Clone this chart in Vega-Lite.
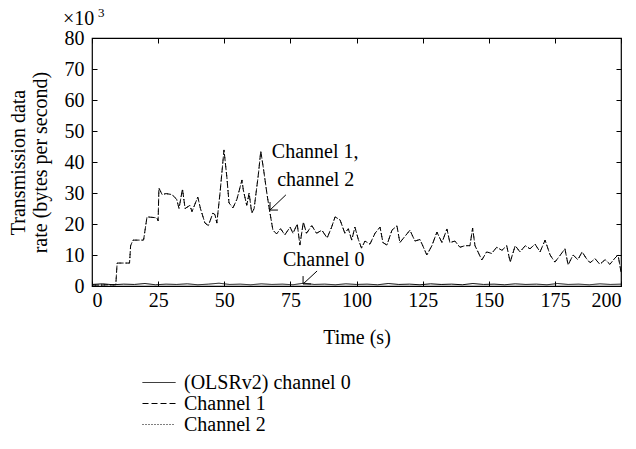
{
  "$schema": "https://vega.github.io/schema/vega-lite/v6.json",
  "width": 529,
  "height": 248,
  "autosize": {"type": "none"},
  "padding": {"left": 92, "top": 38, "right": 15, "bottom": 163},
  "background": "white",
  "config": {
    "font": "Liberation Serif",
    "view": {"stroke": "black", "strokeWidth": 1.2},
    "axis": {
      "domain": false,
      "grid": false,
      "tickColor": "black",
      "tickWidth": 1,
      "tickSize": -5,
      "labelColor": "black",
      "labelFont": "Liberation Serif",
      "labelFontSize": 20,
      "titleFont": "Liberation Serif",
      "titleFontSize": 20,
      "titleFontWeight": "normal",
      "titleColor": "black"
    },
    "legend": {
      "orient": "none",
      "legendX": 56.5,
      "legendY": 334,
      "symbolType": "M-1.65,0H1.65",
      "symbolSize": 400,
      "symbolStrokeColor": "black",
      "symbolStrokeWidth": 1,
      "symbolFillColor": "transparent",
      "labelFont": "Liberation Serif",
      "labelFontSize": 20,
      "labelColor": "black",
      "labelOffset": 14.5,
      "labelLimit": 400,
      "rowPadding": 0
    }
  },
  "datasets": {
    "ch12": [
      {"time": 0, "Channel 1": 0.3, "Channel 2": 0.3},
      {"time": 3, "Channel 1": 0.3, "Channel 2": 0.3},
      {"time": 6, "Channel 1": 0.4, "Channel 2": 0.4},
      {"time": 9, "Channel 1": 0.4, "Channel 2": 0.4},
      {"time": 9.5, "Channel 1": 7.4, "Channel 2": 7.4},
      {"time": 14.2, "Channel 1": 7.4, "Channel 2": 7.4},
      {"time": 14.6, "Channel 1": 13, "Channel 2": 13},
      {"time": 15.5, "Channel 1": 14.8, "Channel 2": 14.8},
      {"time": 19.5, "Channel 1": 14.8, "Channel 2": 14.8},
      {"time": 20.8, "Channel 1": 22.3, "Channel 2": 22.3},
      {"time": 24.5, "Channel 1": 22, "Channel 2": 22},
      {"time": 25, "Channel 1": 21, "Channel 2": 21},
      {"time": 25.3, "Channel 1": 31.6, "Channel 2": 31.6},
      {"time": 26.5, "Channel 1": 29.5, "Channel 2": 29.5},
      {"time": 28, "Channel 1": 29.8, "Channel 2": 29.8},
      {"time": 30.2, "Channel 1": 29.5, "Channel 2": 29.5},
      {"time": 32, "Channel 1": 28, "Channel 2": 28},
      {"time": 32.9, "Channel 1": 25, "Channel 2": 25},
      {"time": 34.2, "Channel 1": 31.3, "Channel 2": 31.3},
      {"time": 35.2, "Channel 1": 25, "Channel 2": 25},
      {"time": 37, "Channel 1": 26, "Channel 2": 26},
      {"time": 37.8, "Channel 1": 24, "Channel 2": 24},
      {"time": 40, "Channel 1": 28.7, "Channel 2": 28.7},
      {"time": 41, "Channel 1": 25, "Channel 2": 25},
      {"time": 42.7, "Channel 1": 20.3, "Channel 2": 20.3},
      {"time": 44, "Channel 1": 19.5, "Channel 2": 19.5},
      {"time": 45.7, "Channel 1": 23.5, "Channel 2": 23.5},
      {"time": 46.5, "Channel 1": 23, "Channel 2": 23},
      {"time": 47.2, "Channel 1": 20.3, "Channel 2": 20.3},
      {"time": 48.4, "Channel 1": 30, "Channel 2": 30},
      {"time": 49.9, "Channel 1": 43.9, "Channel 2": 43.9},
      {"time": 51, "Channel 1": 35, "Channel 2": 35},
      {"time": 51.8, "Channel 1": 26.8, "Channel 2": 26.8},
      {"time": 53.3, "Channel 1": 25.2, "Channel 2": 25.2},
      {"time": 54.8, "Channel 1": 28, "Channel 2": 28},
      {"time": 56.7, "Channel 1": 34.2, "Channel 2": 34.2},
      {"time": 57.2, "Channel 1": 31, "Channel 2": 31},
      {"time": 58.5, "Channel 1": 26, "Channel 2": 26},
      {"time": 59.4, "Channel 1": 30, "Channel 2": 30},
      {"time": 60.4, "Channel 1": 23.5, "Channel 2": 23.5},
      {"time": 61.3, "Channel 1": 25, "Channel 2": 25},
      {"time": 62.9, "Channel 1": 36, "Channel 2": 36},
      {"time": 63.8, "Channel 1": 43.5, "Channel 2": 43.5},
      {"time": 64.8, "Channel 1": 38, "Channel 2": 38},
      {"time": 66.1, "Channel 1": 30, "Channel 2": 30},
      {"time": 67, "Channel 1": 25, "Channel 2": 25},
      {"time": 68.4, "Channel 1": 18, "Channel 2": 18},
      {"time": 69.8, "Channel 1": 16.8, "Channel 2": 16.8},
      {"time": 71.3, "Channel 1": 18.5, "Channel 2": 18.5},
      {"time": 72.9, "Channel 1": 16.5, "Channel 2": 16.5},
      {"time": 74.9, "Channel 1": 19, "Channel 2": 19},
      {"time": 76, "Channel 1": 17, "Channel 2": 17},
      {"time": 77.6, "Channel 1": 20, "Channel 2": 20},
      {"time": 78.6, "Channel 1": 13.2, "Channel 2": 13.2},
      {"time": 79.9, "Channel 1": 20.6, "Channel 2": 20.6},
      {"time": 81.1, "Channel 1": 17, "Channel 2": 17},
      {"time": 83.1, "Channel 1": 19.5, "Channel 2": 19.5},
      {"time": 84.9, "Channel 1": 17, "Channel 2": 17},
      {"time": 86.9, "Channel 1": 18, "Channel 2": 18},
      {"time": 88.9, "Channel 1": 15.5, "Channel 2": 15.5},
      {"time": 90.6, "Channel 1": 19, "Channel 2": 19},
      {"time": 91.9, "Channel 1": 22.3, "Channel 2": 22.3},
      {"time": 93.8, "Channel 1": 21.3, "Channel 2": 21.3},
      {"time": 95.6, "Channel 1": 17, "Channel 2": 17},
      {"time": 96.9, "Channel 1": 18.5, "Channel 2": 18.5},
      {"time": 98.2, "Channel 1": 14.8, "Channel 2": 14.8},
      {"time": 99.4, "Channel 1": 19, "Channel 2": 19},
      {"time": 100.7, "Channel 1": 15, "Channel 2": 15},
      {"time": 101.9, "Channel 1": 12.2, "Channel 2": 12.2},
      {"time": 103.2, "Channel 1": 14.5, "Channel 2": 14.5},
      {"time": 105.1, "Channel 1": 13.5, "Channel 2": 13.5},
      {"time": 107, "Channel 1": 17, "Channel 2": 17},
      {"time": 108.9, "Channel 1": 19, "Channel 2": 19},
      {"time": 110, "Channel 1": 14, "Channel 2": 14},
      {"time": 111.5, "Channel 1": 13.2, "Channel 2": 13.2},
      {"time": 113.4, "Channel 1": 18, "Channel 2": 18},
      {"time": 115.3, "Channel 1": 19.4, "Channel 2": 19.4},
      {"time": 116.4, "Channel 1": 14, "Channel 2": 14},
      {"time": 118.3, "Channel 1": 16, "Channel 2": 16},
      {"time": 120.2, "Channel 1": 18, "Channel 2": 18},
      {"time": 122.1, "Channel 1": 14.5, "Channel 2": 14.5},
      {"time": 124, "Channel 1": 15, "Channel 2": 15},
      {"time": 126.6, "Channel 1": 10, "Channel 2": 10},
      {"time": 128.5, "Channel 1": 13, "Channel 2": 13},
      {"time": 130.4, "Channel 1": 17.4, "Channel 2": 17.4},
      {"time": 132.3, "Channel 1": 14, "Channel 2": 14},
      {"time": 134.2, "Channel 1": 18.4, "Channel 2": 18.4},
      {"time": 135.3, "Channel 1": 14, "Channel 2": 14},
      {"time": 137.2, "Channel 1": 14.5, "Channel 2": 14.5},
      {"time": 139.1, "Channel 1": 12.5, "Channel 2": 12.5},
      {"time": 141, "Channel 1": 13, "Channel 2": 13},
      {"time": 142.9, "Channel 1": 13, "Channel 2": 13},
      {"time": 143.9, "Channel 1": 18.7, "Channel 2": 18.7},
      {"time": 144.8, "Channel 1": 13, "Channel 2": 13},
      {"time": 147.4, "Channel 1": 8.4, "Channel 2": 8.4},
      {"time": 149.2, "Channel 1": 11, "Channel 2": 11},
      {"time": 151.1, "Channel 1": 10.5, "Channel 2": 10.5},
      {"time": 153, "Channel 1": 12.5, "Channel 2": 12.5},
      {"time": 155, "Channel 1": 11.5, "Channel 2": 11.5},
      {"time": 156.8, "Channel 1": 13, "Channel 2": 13},
      {"time": 158.1, "Channel 1": 7.7, "Channel 2": 7.7},
      {"time": 160, "Channel 1": 13, "Channel 2": 13},
      {"time": 161.8, "Channel 1": 11, "Channel 2": 11},
      {"time": 163.8, "Channel 1": 13, "Channel 2": 13},
      {"time": 165.6, "Channel 1": 12, "Channel 2": 12},
      {"time": 167.5, "Channel 1": 13.5, "Channel 2": 13.5},
      {"time": 169.4, "Channel 1": 11, "Channel 2": 11},
      {"time": 171.3, "Channel 1": 14.8, "Channel 2": 14.8},
      {"time": 173.2, "Channel 1": 10, "Channel 2": 10},
      {"time": 175, "Channel 1": 7.7, "Channel 2": 7.7},
      {"time": 176.9, "Channel 1": 9.8, "Channel 2": 9.8},
      {"time": 178.8, "Channel 1": 12, "Channel 2": 12},
      {"time": 180, "Channel 1": 6.8, "Channel 2": 6.8},
      {"time": 181.9, "Channel 1": 10, "Channel 2": 10},
      {"time": 183.7, "Channel 1": 8.5, "Channel 2": 8.5},
      {"time": 185.3, "Channel 1": 11, "Channel 2": 11},
      {"time": 186.8, "Channel 1": 9, "Channel 2": 9},
      {"time": 188.3, "Channel 1": 7.5, "Channel 2": 7.5},
      {"time": 190.2, "Channel 1": 8.8, "Channel 2": 8.8},
      {"time": 192, "Channel 1": 7, "Channel 2": 7},
      {"time": 194, "Channel 1": 8.5, "Channel 2": 8.5},
      {"time": 195.8, "Channel 1": 7, "Channel 2": 7},
      {"time": 197.7, "Channel 1": 9, "Channel 2": 9},
      {"time": 198.9, "Channel 1": 10, "Channel 2": 10},
      {"time": 200, "Channel 1": 4.5, "Channel 2": 4.5}
    ],
    "ch0": [
      {"time": 0, "(OLSRv2) channel 0": 0.5}, {"time": 4, "(OLSRv2) channel 0": 0.7},
      {"time": 8, "(OLSRv2) channel 0": 0.4}, {"time": 12, "(OLSRv2) channel 0": 0.6},
      {"time": 16, "(OLSRv2) channel 0": 0.5}, {"time": 20, "(OLSRv2) channel 0": 0.8},
      {"time": 24, "(OLSRv2) channel 0": 0.4}, {"time": 28, "(OLSRv2) channel 0": 0.6},
      {"time": 32, "(OLSRv2) channel 0": 0.5}, {"time": 36, "(OLSRv2) channel 0": 0.7},
      {"time": 40, "(OLSRv2) channel 0": 0.4}, {"time": 44, "(OLSRv2) channel 0": 0.6},
      {"time": 48, "(OLSRv2) channel 0": 0.9}, {"time": 52, "(OLSRv2) channel 0": 0.5},
      {"time": 56, "(OLSRv2) channel 0": 0.6}, {"time": 60, "(OLSRv2) channel 0": 0.4},
      {"time": 64, "(OLSRv2) channel 0": 0.7}, {"time": 68, "(OLSRv2) channel 0": 0.5},
      {"time": 72, "(OLSRv2) channel 0": 0.6}, {"time": 76, "(OLSRv2) channel 0": 0.4},
      {"time": 80, "(OLSRv2) channel 0": 0.9}, {"time": 84, "(OLSRv2) channel 0": 0.5},
      {"time": 88, "(OLSRv2) channel 0": 0.6}, {"time": 92, "(OLSRv2) channel 0": 0.4},
      {"time": 96, "(OLSRv2) channel 0": 0.7}, {"time": 100, "(OLSRv2) channel 0": 0.5},
      {"time": 104, "(OLSRv2) channel 0": 0.6}, {"time": 108, "(OLSRv2) channel 0": 0.4},
      {"time": 112, "(OLSRv2) channel 0": 0.8}, {"time": 116, "(OLSRv2) channel 0": 0.5},
      {"time": 120, "(OLSRv2) channel 0": 0.6}, {"time": 124, "(OLSRv2) channel 0": 0.4},
      {"time": 128, "(OLSRv2) channel 0": 0.7}, {"time": 132, "(OLSRv2) channel 0": 0.5},
      {"time": 136, "(OLSRv2) channel 0": 0.6}, {"time": 140, "(OLSRv2) channel 0": 0.4},
      {"time": 144, "(OLSRv2) channel 0": 0.8}, {"time": 148, "(OLSRv2) channel 0": 0.5},
      {"time": 152, "(OLSRv2) channel 0": 0.6}, {"time": 156, "(OLSRv2) channel 0": 0.4},
      {"time": 160, "(OLSRv2) channel 0": 0.7}, {"time": 164, "(OLSRv2) channel 0": 0.5},
      {"time": 168, "(OLSRv2) channel 0": 0.6}, {"time": 172, "(OLSRv2) channel 0": 0.4},
      {"time": 176, "(OLSRv2) channel 0": 0.8}, {"time": 180, "(OLSRv2) channel 0": 0.5},
      {"time": 184, "(OLSRv2) channel 0": 0.6}, {"time": 188, "(OLSRv2) channel 0": 0.4},
      {"time": 192, "(OLSRv2) channel 0": 0.7}, {"time": 196, "(OLSRv2) channel 0": 0.5},
      {"time": 200, "(OLSRv2) channel 0": 0.6}
    ]
  },
  "resolve": {"axis": {"x": "independent", "y": "independent"}},
  "layer": [
    {
      "data": {"name": "ch0"},
      "transform": [{"fold": ["(OLSRv2) channel 0"], "as": ["series", "rate"]}],
      "mark": {"type": "line", "color": "black", "strokeWidth": 1},
      "encoding": {
        "x": {"field": "time", "type": "quantitative", "scale": {"domain": [0, 200], "nice": false},
              "axis": {"orient": "bottom", "values": [0, 25, 50, 75, 100, 125, 150, 175, 200], "labelPadding": 9, "title": "Time (s)", "titlePadding": 17}},
        "y": {"field": "rate", "type": "quantitative", "scale": {"domain": [0, 80], "nice": false},
              "axis": {"orient": "left", "values": [0, 10, 20, 30, 40, 50, 60, 70, 80], "labelPadding": 13, "title": ["Transmission data", "rate (bytes per second)"], "titlePadding": 14}},
        "strokeDash": {"field": "series", "type": "nominal",
          "scale": {"domain": ["(OLSRv2) channel 0", "Channel 1", "Channel 2"], "range": [[1, 0], [6, 3], [1, 2]]},
          "legend": {"title": null}}
      }
    },
    {
      "data": {"name": "ch12"},
      "transform": [{"fold": ["Channel 1", "Channel 2"], "as": ["series", "rate"]}],
      "mark": {"type": "line", "color": "black", "strokeWidth": 1},
      "encoding": {
        "x": {"field": "time", "type": "quantitative",
              "axis": {"orient": "top", "values": [0, 25, 50, 75, 100, 125, 150, 175, 200], "labels": false, "title": null}},
        "y": {"field": "rate", "type": "quantitative",
              "axis": {"orient": "right", "values": [0, 10, 20, 30, 40, 50, 60, 70, 80], "labels": false, "title": null}},
        "strokeDash": {"field": "series", "type": "nominal", "legend": {"title": null}}
      }
    },
    {
      "data": {"values": [{}]},
      "mark": {"type": "text", "align": "left", "baseline": "middle", "fontSize": 20, "color": "black"},
      "encoding": {"x": {"datum": 68, "axis": null}, "y": {"datum": 43.2, "axis": null}, "text": {"value": "Channel 1,"}}
    },
    {
      "data": {"values": [{}]},
      "mark": {"type": "text", "align": "left", "baseline": "middle", "fontSize": 20, "color": "black"},
      "encoding": {"x": {"datum": 70, "axis": null}, "y": {"datum": 34.2, "axis": null}, "text": {"value": "channel 2"}}
    },
    {
      "data": {"values": [{}]},
      "mark": {"type": "text", "align": "left", "baseline": "middle", "fontSize": 20, "color": "black"},
      "encoding": {"x": {"datum": 72.2, "axis": null}, "y": {"datum": 8.4, "axis": null}, "text": {"value": "Channel 0"}}
    },
    {
      "data": {"values": [{}]},
      "mark": {"type": "text", "align": "left", "baseline": "middle", "fontSize": 20, "color": "black", "dx": -29, "dy": -19},
      "encoding": {"x": {"datum": 0, "axis": null}, "y": {"datum": 80, "axis": null}, "text": {"value": "×10"}}
    },
    {
      "data": {"values": [{}]},
      "mark": {"type": "text", "align": "left", "baseline": "middle", "fontSize": 13, "color": "black", "dx": 6, "dy": -25},
      "encoding": {"x": {"datum": 0, "axis": null}, "y": {"datum": 80, "axis": null}, "text": {"value": "3"}}
    },
    {
      "data": {"values": [{}]},
      "mark": {"type": "rule", "color": "black", "strokeWidth": 1},
      "encoding": {"x": {"datum": 73.3, "axis": null}, "y": {"datum": 29.4, "axis": null}, "x2": {"datum": 67.3}, "y2": {"datum": 24.5}}
    },
    {
      "data": {"values": [{}]},
      "mark": {"type": "rule", "color": "black", "strokeWidth": 1},
      "encoding": {"x": {"datum": 67.3, "axis": null}, "y": {"datum": 24.5, "axis": null}, "x2": {"datum": 70.3}, "y2": {"datum": 24.5}}
    },
    {
      "data": {"values": [{}]},
      "mark": {"type": "rule", "color": "black", "strokeWidth": 1},
      "encoding": {"x": {"datum": 67.3, "axis": null}, "y": {"datum": 24.5, "axis": null}, "x2": {"datum": 67.3}, "y2": {"datum": 27.1}}
    },
    {
      "data": {"values": [{}]},
      "mark": {"type": "rule", "color": "black", "strokeWidth": 1},
      "encoding": {"x": {"datum": 85.1, "axis": null}, "y": {"datum": 4.84, "axis": null}, "x2": {"datum": 79.8}, "y2": {"datum": 0.65}}
    },
    {
      "data": {"values": [{}]},
      "mark": {"type": "rule", "color": "black", "strokeWidth": 1},
      "encoding": {"x": {"datum": 79.8, "axis": null}, "y": {"datum": 0.65, "axis": null}, "x2": {"datum": 82.8}, "y2": {"datum": 0.65}}
    },
    {
      "data": {"values": [{}]},
      "mark": {"type": "rule", "color": "black", "strokeWidth": 1},
      "encoding": {"x": {"datum": 79.8, "axis": null}, "y": {"datum": 0.65, "axis": null}, "x2": {"datum": 79.8}, "y2": {"datum": 3.2}}
    }
  ]
}
